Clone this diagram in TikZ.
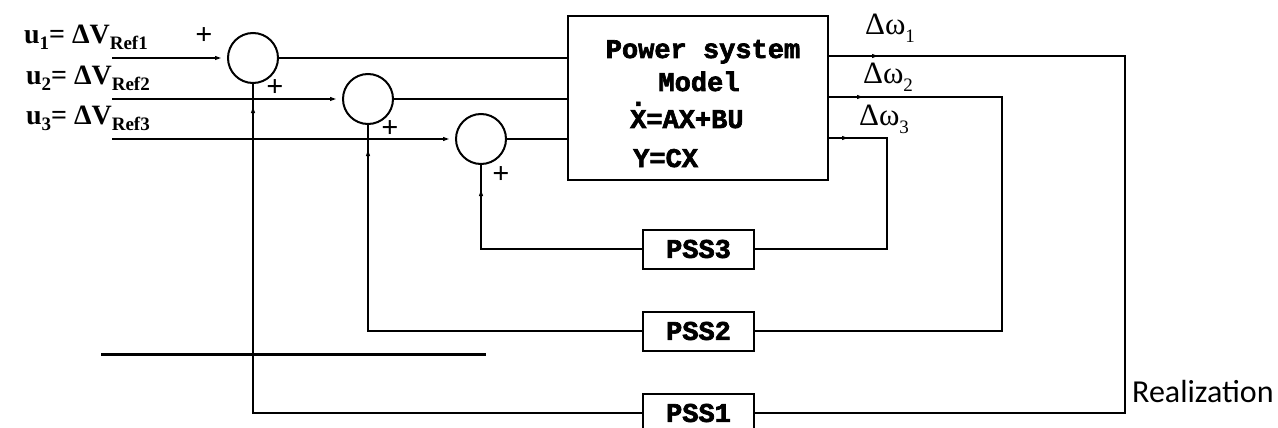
\documentclass[tikz,border=0pt]{standalone}
\usepackage{fontspec}
\setmainfont{Liberation Serif}
\newfontfamily\slabfont{Liberation Mono}[BoldFeatures={FakeBold=2.5}]
\newfontfamily\notefont{Carlito}
\usetikzlibrary{arrows.meta,decorations.markings,positioning}

\newcommand{\lowsub}[2][6pt]{\lower#1\hbox{\fontsize{19}{19}\selectfont #2}}

\tikzset{
  wire/.style={line width=2pt},
  wireto/.style={wire, -{Latex[length=12pt,width=4pt]}},
  tipat/.style={postaction={decorate}, decoration={markings,
    mark=at position #1 with {\arrow{Latex[length=12pt,width=4pt]}}}},
  sumnode/.style={draw, circle, line width=2pt, minimum size=50pt, inner sep=0pt},
  pssbox/.style={draw, line width=2pt, minimum width=111pt, minimum height=39pt,
    inner sep=0pt, font=\slabfont\bfseries\fontsize{27}{30}\selectfont},
  modeltxt/.style={inner sep=0pt, font=\slabfont\bfseries\fontsize{27}{30}\selectfont},
  inlabel/.style={inner sep=0pt, anchor=east, font=\bfseries\fontsize{28}{32}\selectfont},
  dwlabel/.style={inner sep=0pt, font=\fontsize{31}{34}\selectfont},
  signlabel/.style={inner sep=0pt, font=\bfseries\fontsize{30}{32}\selectfont},
}

\begin{document}
\begin{tikzpicture}[x=1pt, y=-1pt]
\path[fill=white] (0,0) rectangle (1278,428);
\useasboundingbox (0,0) rectangle (1278,428);

% summing junctions
\node[sumnode] (sumA) at (253,58) {};
\node[sumnode] (sumB) at (368,99) {};
\node[sumnode] (sumC) at (481,139) {};

% plant
\node[draw, line width=2pt, minimum width=260pt, minimum height=164pt, inner sep=0pt] (model) at (698,98) {};
\node[modeltxt, anchor=base] (mdlA) at (703,58) {Power system};
\node[modeltxt, anchor=base] (mdlB) at (699,91) {Model};
\node[modeltxt, anchor=base west] (mdlC) at (630,128) {\rlap{\raisebox{0.82em}{.}}X=AX+BU};
\node[modeltxt, anchor=base west] (mdlD) at (633,167) {Y=CX};

% stabilizers
\node[pssbox] (pssC) at (698.5,249) {PSS3};
\node[pssbox] (pssB) at (698.5,331) {PSS2};
\node[pssbox] (pssA) at (698.5,413) {PSS1};

% inputs
\node[inlabel] (uA) at (148,37) {u\lowsub{1}= ΔV\lowsub{Ref1}};
\node[inlabel] (uB) at (150,78) {u\lowsub{2}= ΔV\lowsub{Ref2}};
\node[inlabel] (uC) at (150,118) {u\lowsub{3}= ΔV\lowsub{Ref3}};
\coordinate (inA) at (112,58);
\coordinate (inB) at (112,99);
\coordinate (inC) at (112,139);

% outputs
\node[dwlabel] (dwA) at (890,28) {Δω\lowsub[8pt]{1}};
\node[dwlabel] (dwB) at (888,77) {Δω\lowsub[8pt]{2}};
\node[dwlabel] (dwC) at (884,119) {Δω\lowsub[8pt]{3}};
\coordinate (outA) at (1125,56);
\coordinate (outB) at (1002,97);
\coordinate (outC) at (887,138);

% signs
\node[signlabel] (pA) at (204,36) {+};
\node[signlabel] (pB) at (275,88) {+};
\node[signlabel] (pC) at (390,129) {+};
\node[signlabel] (pD) at (501,175) {+};

% forward path
\draw[wireto] (inA) -- (sumA);
\draw[wireto] (inB) -- (sumB);
\draw[wireto] (inC) -- (sumC);
\draw[wire] (sumA) -- (sumA -| model.west);
\draw[wire] (sumB) -- (sumB -| model.west);
\draw[wire] (sumC) -- (sumC -| model.west);

% feedback loops
\draw[wire, tipat=55pt] (model.east |- outA) -- (outA) |- (pssA);
\draw[wire, tipat=40pt] (model.east |- outB) -- (outB) |- (pssB);
\draw[wire, tipat=25pt] (model.east |- outC) -- (outC) |- (pssC);
\draw[wire, tipat=-17pt] (pssA) -| (sumA);
\draw[wire, tipat=-19pt] (pssB) -| (sumB);
\draw[wire, tipat=-19pt] (pssC) -| (sumC);

\draw[line width=3pt] (101,354) -- (486,354);
\node[inner sep=0pt, anchor=west, font=\notefont\fontsize{32}{36}\selectfont] (realize) at (1132,392) {Realization};
\end{tikzpicture}
\end{document}
